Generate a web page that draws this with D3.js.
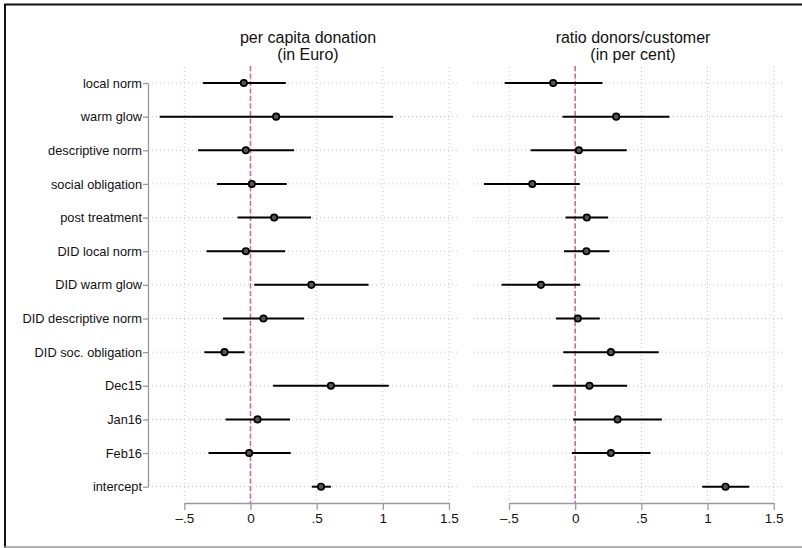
<!DOCTYPE html>
<html><head><meta charset="utf-8">
<script src="https://cdn.jsdelivr.net/npm/d3@7"></script>
<style>body{margin:0;background:#fff}svg{display:block}text{font-family:"Liberation Sans",Arial,sans-serif}</style>
</head><body><svg id="c" width="802" height="548"></svg>
<script>
const categories = ["local norm","warm glow","descriptive norm","social obligation","post treatment","DID local norm","DID warm glow","DID descriptive norm","DID soc. obligation","Dec15","Jan16","Feb16","intercept"];
const donationEst = [-0.05,0.194,-0.035,0.01,0.179,-0.035,0.46,0.098,-0.196,0.608,0.053,-0.01,0.533];
const donationLo  = [-0.36,-0.686,-0.396,-0.253,-0.098,-0.332,0.028,-0.208,-0.349,0.171,-0.188,-0.317,0.463];
const donationHi  = [0.267,1.078,0.33,0.274,0.457,0.262,0.892,0.405,-0.045,1.045,0.299,0.304,0.608];
const ratioEst = [-0.166,0.31,0.028,-0.324,0.088,0.085,-0.259,0.02,0.27,0.108,0.32,0.27,1.136];
const ratioLo  = [-0.533,-0.096,-0.337,-0.69,-0.073,-0.085,-0.556,-0.146,-0.09,-0.171,-0.015,-0.025,0.96];
const ratioHi  = [0.206,0.712,0.39,0.035,0.249,0.259,0.038,0.186,0.631,0.393,0.655,0.569,1.315];
const xTicks = [-0.5,0,0.5,1,1.5];
const xTickLabels = ["\u2013.5","0",".5","1","1.5"];
const titles = [["per capita donation","(in Euro)"],["ratio donors/customer","(in per cent)"]];

const svg = d3.select("#c");
// frame
svg.append("line").attr("x1",4).attr("x2",802).attr("y1",4.5).attr("y2",4.5).attr("stroke","#111").attr("stroke-width",2);
svg.append("line").attr("x1",5).attr("x2",5).attr("y1",4).attr("y2",548).attr("stroke","#111").attr("stroke-width",2);
svg.append("line").attr("x1",4).attr("x2",802).attr("y1",547).attr("y2",547).attr("stroke","#999").attr("stroke-width",1.5);

const y = d3.scalePoint().domain(categories).range([83,486.7]);

const panels = [
  {x0:148,x1:460,range:[184.3,449],est:donationEst,lo:donationLo,hi:donationHi,title:titles[0],tc:308,yaxis:true},
  {x0:473,x1:785,range:[509,773.7],est:ratioEst,lo:ratioLo,hi:ratioHi,title:titles[1],tc:633,yaxis:false}
];

panels.forEach(p=>{
  const x = d3.scaleLinear().domain([-0.5,1.5]).range(p.range);
  const g = svg.append("g");
  g.selectAll(".vg").data(xTicks).join("line")
    .attr("x1",d=>x(d)).attr("x2",d=>x(d)).attr("y1",67).attr("y2",500)
    .attr("stroke","#c8c8c8").attr("stroke-width",1).attr("stroke-dasharray","1,3");
  g.selectAll(".hg").data(categories).join("line")
    .attr("x1",p.x0).attr("x2",p.x1).attr("y1",d=>y(d)).attr("y2",d=>y(d))
    .attr("stroke","#c8c8c8").attr("stroke-width",1).attr("stroke-dasharray","1,3");
  g.append("line").attr("x1",x(0)).attr("x2",x(0)).attr("y1",66).attr("y2",503)
    .attr("stroke","#d0679f").attr("stroke-width",1.6).attr("stroke-dasharray","5,2.5");
  const ax = g.append("g").attr("transform","translate(0,503)")
    .call(d3.axisBottom(x).tickValues(xTicks).tickFormat((d,i)=>xTickLabels[i]).tickSize(7).tickSizeOuter(0).tickPadding(3));
  ax.select(".domain").attr("stroke","#999").attr("stroke-width",1.3);
  ax.selectAll(".tick line").attr("stroke","#999").attr("stroke-width",1.3);
  ax.selectAll(".tick text").attr("font-size",13.5).attr("fill","#111").attr("font-family","Liberation Sans, Arial, sans-serif");
  if(p.yaxis){
    const ay = g.append("g").attr("transform",`translate(${p.x0},0)`)
      .call(d3.axisLeft(y).tickSize(5).tickSizeOuter(0).tickPadding(1));
    ay.select(".domain").attr("stroke","#999").attr("stroke-width",1.3);
    ay.selectAll(".tick line").attr("stroke","#999").attr("stroke-width",1.3);
    ay.selectAll(".tick text").attr("font-size",12.8).attr("fill","#111").attr("font-family","Liberation Sans, Arial, sans-serif");
  }
  g.selectAll(".ci").data(categories).join("line")
    .attr("x1",(d,i)=>x(p.lo[i])).attr("x2",(d,i)=>x(p.hi[i]))
    .attr("y1",d=>y(d)).attr("y2",d=>y(d))
    .attr("stroke","#000").attr("stroke-width",2);
  g.selectAll(".pt").data(categories).join("circle")
    .attr("cx",(d,i)=>x(p.est[i])).attr("cy",d=>y(d)).attr("r",3.2)
    .attr("fill","#555").attr("stroke","#000").attr("stroke-width",1.7);
  g.append("text").attr("x",p.tc).attr("y",43).attr("text-anchor","middle").attr("font-size",16).attr("fill","#111").text(p.title[0]);
  g.append("text").attr("x",p.tc).attr("y",60).attr("text-anchor","middle").attr("font-size",16).attr("fill","#111").text(p.title[1]);
});
</script></body></html>
